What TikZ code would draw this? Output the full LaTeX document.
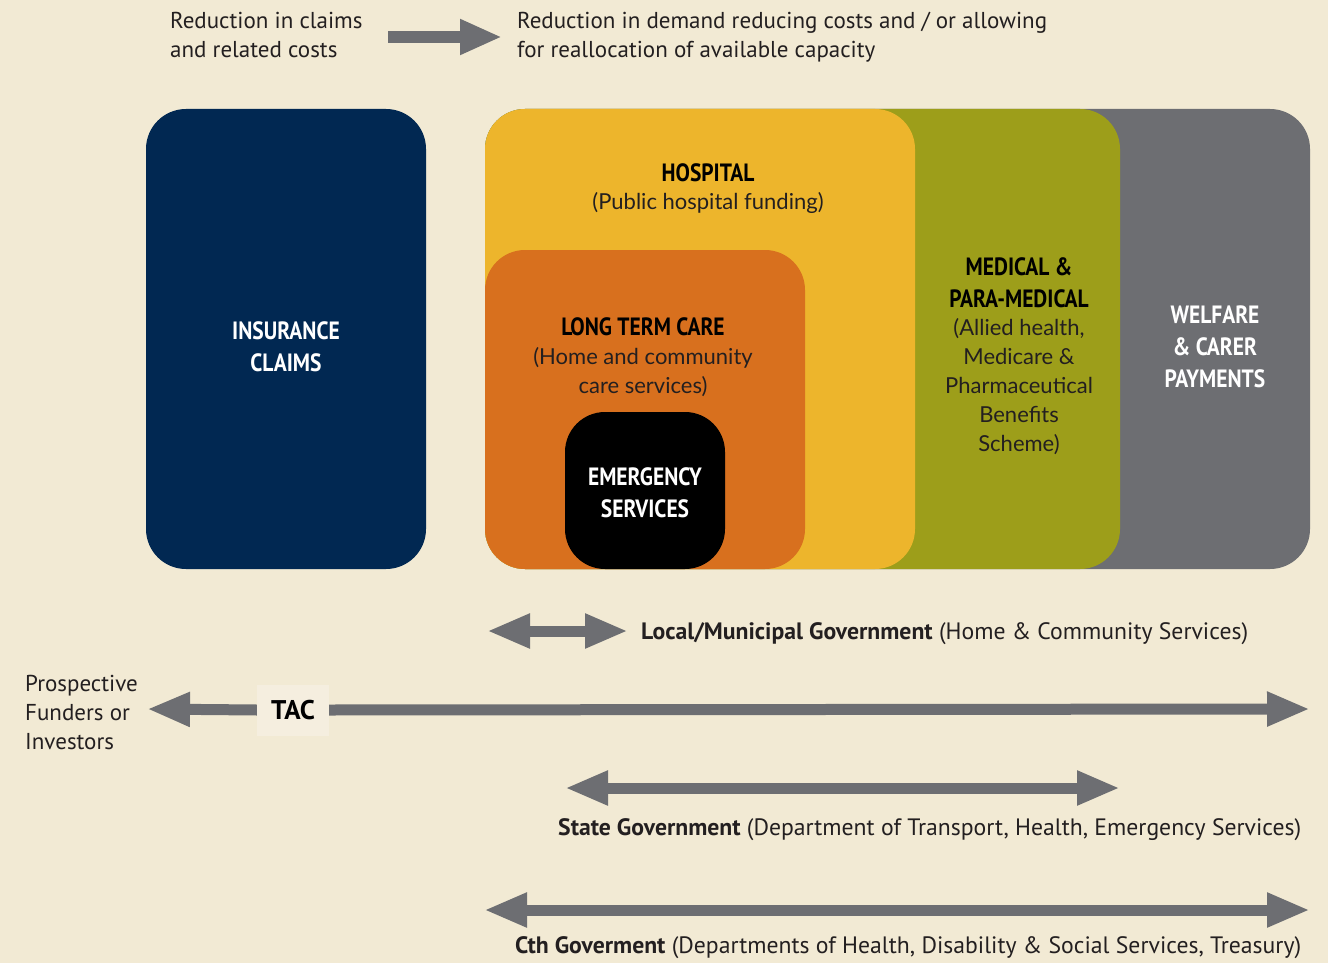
\documentclass[tikz,border=0pt]{standalone}
\usepackage{fontspec}
\usetikzlibrary{arrows.meta}
\newfontfamily\condf[FakeStretch=0.86]{PT Sans}
\newfontfamily\plainf{PT Sans}
\newfontfamily\descf{Lato}
\definecolor{bg}{HTML}{F2EAD4}
\definecolor{navy}{HTML}{012852}
\definecolor{hosp}{HTML}{EDB52C}
\definecolor{ltc}{HTML}{D8701E}
\definecolor{med}{HTML}{9D9E1A}
\definecolor{welf}{HTML}{6D6E72}
\definecolor{arr}{HTML}{6D6E72}
\definecolor{tacbg}{HTML}{F5EEDF}
\definecolor{txt}{HTML}{231F20}
\tikzset{
  box/.style={rounded corners=40pt, inner sep=0pt, outer sep=0pt, anchor=north west},
  toptext/.style={font=\plainf\fontsize{23}{29}\selectfont, text=txt, align=left, inner sep=0pt},
  title/.style={font=\condf\bfseries\fontsize{25}{32}\selectfont, align=center, inner sep=0pt},
  desc/.style={font=\descf\fontsize{22}{29}\selectfont, text=txt, align=center, inner sep=0pt},
  govtext/.style={font=\plainf\fontsize{23.7}{29}\selectfont, text=txt, inner sep=0pt},
  bigarrow/.style={draw=arr, line width=11pt, -{Triangle[length=43pt,width=32pt]}},
  dblarrow/.style={draw=arr, line width=11pt, {Triangle[length=43pt,width=32pt]}-{Triangle[length=43pt,width=32pt]}},
}
\begin{document}
\begin{tikzpicture}[x=1pt,y=-1pt]
\fill[bg] (0,0) rectangle (1328,963);
\useasboundingbox (0,0) rectangle (1328,963);

% top legend
\node[toptext, anchor=north west] (claims) at (170,12) {Reduction in claims\\and related costs};
\node[toptext, anchor=north west] (demand) at (517,12) {Reduction in demand reducing costs and / or allowing\\for reallocation of available capacity};
\coordinate (ta) at (388,37);
\coordinate (tb) at (502,37);
\draw[draw=arr, line width=12pt, -{Triangle[length=42pt,width=33pt]}] (ta) -- (tb);

% boxes
\node[box, fill=navy, minimum width=280pt, minimum height=460pt] (ins) at (146,109) {};
\node[box, fill=welf, minimum width=825pt, minimum height=460pt] (welfbox) at (485,109) {};
\node[box, fill=med, minimum width=635pt, minimum height=460pt] (medbox) at (485,109) {};
\node[box, fill=hosp, minimum width=430pt, minimum height=460pt] (hospbox) at (485,109) {};
\node[box, fill=ltc, minimum width=320pt, minimum height=319pt] (ltcbox) at (485,250) {};
\node[box, fill=black, minimum width=160pt, minimum height=157pt] (emerbox) at (565,412) {};

% box labels
\node[title, text=white] (inslbl) at (286,347) {INSURANCE\\CLAIMS};
\node[title, text=black] (hosplbl) at (708,173) {HOSPITAL};
\node[desc] (hospdesc) at (708,203) {(Public hospital funding)};
\node[title, text=black] (ltclbl) at (643,327) {LONG TERM CARE};
\node[desc] (ltcdesc) at (643,372) {(Home and community\\care services)};
\node[title, text=white] (emerlbl) at (645,493) {EMERGENCY\\SERVICES};
\node[title, text=black] (medlbl) at (1019,283) {MEDICAL \&\\PARA-MEDICAL};
\node[desc] (meddesc) at (1019,387) {(Allied health,\\Medicare \&\\Pharmaceutical\\Benefits\\Scheme)};
\node[title, text=white] (welflbl) at (1215,347) {WELFARE\\\& CARER\\PAYMENTS};

% local government
\coordinate (la) at (487,631);
\coordinate (lb) at (628,631);
\draw[dblarrow] (la) -- (lb);
\node[govtext, anchor=west] (local) at (641,634) {\textbf{Local/Municipal Government} (Home \& Community Services)};

% TAC
\node[toptext, anchor=west] (funders) at (25,712) {Prospective\\Funders or\\Investors};
\node[fill=tacbg, minimum width=72pt, minimum height=51pt, inner sep=0pt, font=\plainf\bfseries\fontsize{27}{30}\selectfont] (tac) at (293,710) {TAC};
\coordinate (tl) at (147,709);
\coordinate (tr) at (1310,709);
\draw[bigarrow] (tac.west) -- (tl);
\draw[bigarrow] (tac.east) -- (tr);

% state
\coordinate (sa) at (565,788);
\coordinate (sb) at (1120,788);
\draw[dblarrow] (sa) -- (sb);
\node[govtext, anchor=west] (state) at (558,830) {\textbf{State Government} (Department of Transport, Health, Emergency Services)};

% Cth
\coordinate (ca) at (484,910);
\coordinate (cb) at (1310,910);
\draw[dblarrow] (ca) -- (cb);
\node[govtext, anchor=west] (cth) at (515,948) {\textbf{Cth Goverment} (Departments of Health, Disability \& Social Services, Treasury)};
\end{tikzpicture}
\end{document}
